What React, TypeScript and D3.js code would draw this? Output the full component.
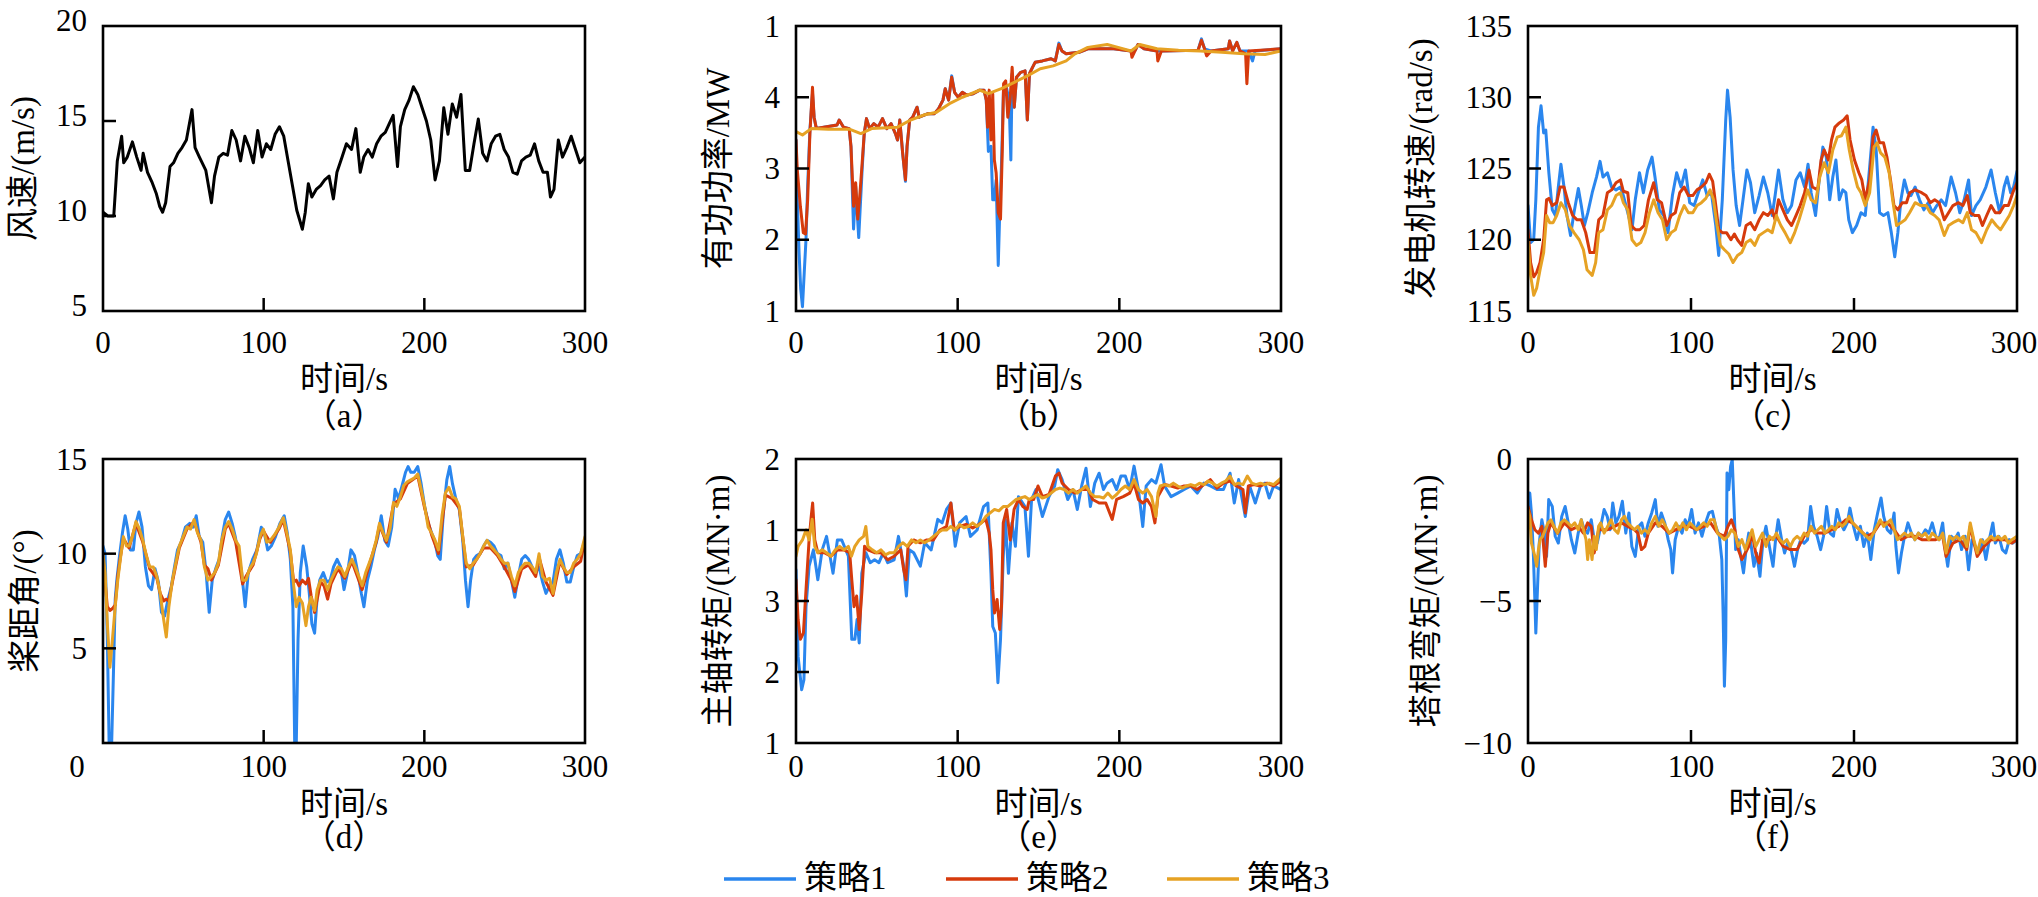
import React from 'react';
import * as d3 from 'd3';

// ---------------- data (time s, value) ----------------
const xTickValues = [0, 100, 200, 300];
const xTickLabels = ['0', '100', '200', '300'];
const legendLabels = ['策略1', '策略2', '策略3'];
const seriesColors = ['#2a86ee', '#d63a0c', '#e6a224'];

const windSpeed = [[0,10.2],[3,10.0],[6.7,10.0],[8.9,12.9],[11.6,14.2],[12.9,12.8],[15.1,13.1],[18.3,13.9],[21.0,13.1],[23.7,12.4],[25.0,13.3],[27.7,12.3],[30.4,11.8],[33.1,11.2],[35.3,10.5],[37.1,10.2],[39.0,10.7],[41.7,12.6],[43.9,12.8],[46.6,13.3],[49.2,13.6],[51.9,14.0],[55.4,15.6],[57.3,13.6],[60.0,13.1],[64.0,12.4],[67.5,10.7],[69.4,12.1],[72.1,13.1],[74.8,13.3],[77.5,13.2],[80.2,14.5],[82.9,14.0],[85.6,12.9],[88.3,14.2],[91.0,13.6],[93.6,12.8],[96.3,14.5],[99.0,13.1],[101.7,13.8],[104.4,13.5],[107.1,14.3],[109.8,14.7],[112.5,14.2],[115.2,12.9],[117.9,11.6],[120.6,10.3],[124.1,9.3],[125.9,10.2],[127.8,11.7],[130.0,11.0],[132.7,11.4],[135.4,11.6],[138.0,11.9],[140.7,12.1],[143.4,10.9],[145.6,12.3],[148.8,13.1],[151.5,13.8],[154.7,13.5],[157.4,14.6],[160.1,12.3],[162.3,13.1],[165.0,13.5],[167.6,13.1],[170.3,13.8],[173.0,14.2],[175.7,14.4],[178.4,14.9],[180.6,15.3],[183.3,12.6],[185.1,14.7],[187.8,15.6],[190.5,16.1],[193.2,16.8],[195.9,16.4],[198.6,15.7],[201.3,15.0],[204.0,14.0],[206.7,11.9],[209.4,12.9],[212.1,15.7],[214.7,14.3],[217.4,15.9],[220.1,15.2],[222.8,16.4],[225.5,12.4],[228.2,12.4],[230.9,13.8],[233.6,15.1],[236.3,13.3],[239.0,12.9],[241.6,13.8],[244.3,14.2],[247.0,14.3],[249.7,13.5],[252.4,13.1],[255.1,12.3],[257.8,12.2],[260.5,12.9],[263.2,13.1],[265.9,13.2],[268.6,13.8],[271.2,12.9],[273.9,12.3],[276.6,12.3],[278.5,11.0],[280.7,11.4],[283.4,14.0],[286.0,13.1],[288.7,13.6],[291.4,14.2],[294.1,13.5],[296.8,12.8],[300,13.1]];

const powerS1 = [[0,3.40],[0.8,2.56],[1.9,1.82],[2.9,1.31],[4.0,1.06],[5.1,1.54],[6.2,2.01],[7.2,2.75],[8.6,3.54],[10.2,4.05],[11.2,3.72],[12.6,3.56],[25.4,3.61],[26.7,3.68],[29.4,3.58],[32.9,3.56],[34.0,3.31],[35.6,2.15],[36.9,2.75],[38.8,2.03],[40.9,2.98],[42.2,3.49],[43.6,3.70],[45.5,3.56],[48.1,3.63],[50.8,3.58],[53.5,3.70],[56.2,3.56],[58.8,3.63],[61.5,3.49],[62.8,3.40],[64.2,3.68],[66.0,3.21],[67.7,2.82],[68.7,3.31],[70.3,3.68],[72.2,3.72],[74.9,3.86],[76.2,3.72],[81.6,3.77],[85.6,3.77],[88.2,3.84],[90.9,3.96],[92.3,4.12],[94.4,3.96],[96.3,4.30],[98.1,4.07],[100.3,4.0],[102.9,4.07],[105.6,4.03],[109.6,4.05],[113.6,4.10],[116.3,4.10],[117.7,3.96],[119.0,3.24],[120.6,3.31],[121.7,2.56],[122.7,2.56],[123.8,2.84],[125.1,1.64],[125.9,2.29],[127.0,2.98],[128.4,4.14],[129.7,4.19],[131.8,3.96],[132.9,3.12],[133.7,4.33],[135.0,3.86],[136.4,4.28],[139.0,4.35],[141.7,4.37],[143.1,3.68],[144.4,4.33],[146.3,4.42],[147.9,4.49],[152.4,4.51],[157.8,4.54],[160.4,4.51],[162.6,4.76],[164.5,4.65],[167.1,4.61],[175.1,4.63],[180.5,4.68],[196.5,4.68],[207.2,4.65],[209.9,4.66],[211.5,4.74],[215.3,4.68],[223.3,4.65],[226.0,4.65],[248.7,4.66],[250.8,4.82],[252.7,4.68],[256.7,4.65],[267.4,4.68],[268.2,4.79],[270.1,4.65],[272.7,4.77],[274.6,4.65],[280.0,4.65],[282.4,4.51],[284.0,4.65],[300,4.68]];
const powerS2 = [[0,3.40],[0.8,2.98],[2.7,2.47],[4.5,2.10],[5.9,2.08],[7.2,2.56],[8.6,3.49],[10.2,4.14],[11.2,3.72],[12.6,3.56],[25.4,3.61],[26.7,3.68],[29.4,3.58],[32.9,3.56],[34.0,3.31],[35.6,2.47],[36.9,2.80],[38.2,2.29],[39.6,2.66],[40.9,3.07],[42.2,3.49],[43.6,3.70],[45.5,3.56],[48.1,3.63],[50.8,3.58],[53.5,3.70],[56.2,3.56],[58.8,3.63],[61.5,3.49],[62.8,3.40],[64.2,3.68],[66.0,3.21],[67.7,2.84],[68.7,3.31],[70.3,3.68],[72.2,3.72],[74.9,3.86],[76.2,3.72],[81.6,3.77],[85.6,3.77],[88.2,3.84],[90.9,3.96],[92.3,4.12],[94.4,3.96],[96.3,4.28],[98.1,4.07],[100.3,4.0],[102.9,4.07],[105.6,4.03],[109.6,4.05],[113.6,4.10],[116.3,4.10],[117.7,3.96],[118.5,3.58],[119.5,4.10],[120.6,3.40],[121.7,4.05],[122.7,3.12],[123.8,2.94],[125.1,2.38],[126.5,2.29],[127.6,3.26],[128.4,4.19],[129.7,4.23],[131.0,3.72],[132.4,3.96],[133.7,4.42],[135.0,3.86],[136.4,4.28],[139.0,4.35],[141.7,4.37],[143.1,3.68],[144.4,4.33],[146.3,4.42],[147.9,4.49],[152.4,4.51],[157.8,4.54],[160.4,4.51],[162.6,4.74],[164.5,4.65],[167.1,4.61],[175.1,4.63],[180.5,4.68],[196.5,4.68],[207.2,4.65],[207.8,4.56],[209.9,4.66],[211.5,4.74],[215.3,4.68],[223.3,4.65],[223.8,4.51],[226.0,4.65],[248.7,4.66],[250.8,4.80],[252.7,4.68],[254.0,4.58],[256.7,4.65],[267.4,4.68],[268.2,4.79],[270.1,4.65],[272.7,4.77],[274.6,4.65],[278.1,4.61],[278.9,4.19],[280.0,4.65],[300,4.68]];
const powerS3 = [[0,3.52],[4.0,3.47],[9.4,3.56],[20,3.55],[33.4,3.55],[40.1,3.49],[46.8,3.56],[62.8,3.58],[70.9,3.68],[78.9,3.75],[86.9,3.79],[94.9,3.91],[102.9,4.0],[113.6,4.10],[119.0,4.05],[127.0,4.12],[135.0,4.21],[143.1,4.30],[151.1,4.40],[159.1,4.44],[167.1,4.51],[172.5,4.61],[180.5,4.70],[192.5,4.74],[199.2,4.70],[207.2,4.65],[212.6,4.74],[223.3,4.68],[236.6,4.66],[250.0,4.65],[263.4,4.63],[276.8,4.61],[290.1,4.60],[300,4.65]];

const genSpeedS1 = [[0,122.4],[1.6,119.8],[3.5,120.0],[4.8,122.8],[6.4,127.9],[8.0,129.4],[9.6,127.5],[10.9,127.7],[12.8,124.7],[14.9,122.1],[16.8,121.7],[18.6,123.7],[20.2,125.3],[22.1,123.7],[23.9,121.7],[26.1,120.3],[28.2,121.9],[30.9,123.6],[32.7,122.4],[34.6,121.0],[36.7,121.9],[39.4,123.3],[42.0,124.4],[44.2,125.5],[46.0,124.4],[48.7,124.7],[51.3,123.7],[54.0,123.5],[56.7,123.7],[58.5,123.1],[61.2,121.9],[63.8,120.7],[65.8,122.8],[68.4,124.7],[70.8,123.3],[73.4,124.9],[76.1,125.8],[77.9,124.4],[80.6,122.1],[83.3,121.7],[85.9,120.5],[88.6,123.1],[91.2,124.7],[93.9,123.7],[96.6,124.9],[99.2,122.6],[101.9,122.4],[104.5,123.3],[107.2,124.2],[109.9,123.1],[112.5,123.3],[115.2,121.0],[117.0,118.9],[119.2,122.8],[121.3,128.4],[122.4,130.5],[124.0,128.6],[125.8,124.9],[127.7,122.4],[129.8,121.0],[131.9,122.8],[134.3,124.9],[136.5,124.0],[139.1,121.9],[141.8,123.1],[144.4,124.4],[147.1,123.3],[149.8,121.7],[151.6,123.1],[153.7,124.9],[156.4,122.8],[159.1,121.9],[161.7,122.4],[164.4,124.2],[167.0,124.7],[169.7,123.7],[171.8,125.3],[173.7,123.3],[176.4,121.7],[178.2,123.7],[180.9,126.5],[183.0,125.8],[185.1,122.8],[187.0,124.4],[188.9,125.6],[191.0,122.8],[193.1,123.5],[195.0,123.3],[196.8,121.4],[199.0,120.5],[201.6,121.0],[204.3,121.9],[206.9,121.7],[209.6,125.1],[211.7,127.9],[213.6,126.3],[215.7,121.9],[218.1,121.7],[220.8,121.9],[222.9,120.5],[225.0,118.8],[226.9,120.5],[228.8,122.8],[230.9,124.2],[233.0,123.3],[234.9,123.1],[237.5,123.7],[240.2,122.8],[242.9,122.1],[245.5,122.6],[248.2,121.9],[250.8,122.4],[253.5,122.8],[256.2,122.4],[259.6,124.4],[262.3,123.3],[264.9,121.9],[267.6,122.8],[270.3,124.2],[272.1,121.7],[274.8,122.4],[277.4,122.8],[280.9,123.7],[284.1,124.9],[286.7,123.3],[289.4,121.9],[292.1,123.7],[293.9,124.4],[296.1,123.3],[297.9,123.7],[300,124.8]];
const genSpeedS2 = [[0,120.7],[1.6,118.4],[3.5,117.4],[5.3,117.7],[7.4,118.4],[9.6,120.0],[11.4,122.8],[12.8,122.9],[14.9,122.4],[17.6,122.6],[19.7,123.7],[22.1,123.7],[24.7,122.6],[27.4,121.7],[30.1,121.4],[32.7,121.4],[35.4,120.5],[38.0,119.1],[40.7,119.1],[43.4,121.4],[46.0,121.7],[48.7,123.3],[51.3,123.5],[54.0,124.0],[56.7,124.2],[58.5,123.4],[61.2,123.3],[63.3,121.0],[66.0,120.7],[68.6,120.7],[71.3,121.0],[73.9,122.8],[77.1,124.0],[79.3,122.8],[81.9,122.6],[85.1,121.0],[87.8,121.7],[90.4,121.9],[93.1,123.3],[95.8,123.7],[98.4,123.1],[101.1,123.1],[103.7,123.5],[106.4,123.7],[109.1,124.0],[111.2,124.6],[113.3,124.1],[115.2,122.4],[117.0,120.7],[119.2,120.5],[121.8,120.5],[124.5,120.0],[126.6,120.4],[128.5,120.0],[131.1,119.6],[133.8,121.0],[136.5,121.2],[139.1,120.7],[141.8,121.4],[144.4,121.9],[147.1,121.7],[149.8,122.1],[151.6,121.4],[153.7,122.8],[156.4,122.1],[159.1,121.4],[161.7,121.0],[164.4,121.7],[167.0,122.4],[169.7,123.3],[172.4,124.9],[174.5,123.7],[177.7,123.5],[179.8,125.6],[181.7,126.3],[184.3,125.6],[186.2,127.0],[188.3,127.9],[191.0,128.2],[193.6,128.4],[195.8,128.7],[197.6,127.0],[200.3,125.6],[203.0,124.7],[204.8,124.2],[206.9,122.8],[209.6,124.2],[211.7,127.2],[213.6,127.7],[215.7,126.8],[218.1,126.8],[220.2,125.8],[222.4,124.2],[224.5,122.4],[226.9,122.1],[229.6,122.6],[232.2,122.6],[234.1,123.3],[237.5,123.5],[241.5,123.3],[244.2,123.1],[246.8,122.6],[249.5,122.8],[252.2,122.6],[255.4,121.4],[258.0,121.9],[260.7,122.4],[264.1,122.6],[266.8,122.4],[269.5,123.1],[271.3,121.9],[274.0,121.7],[276.6,121.7],[278.8,121.0],[281.4,121.7],[284.1,122.4],[286.7,121.9],[289.4,121.9],[292.1,122.4],[294.7,122.4],[297.4,123.3],[300,124.0]];
const genSpeedS3 = [[0,120.0],[1.6,117.5],[3.5,116.1],[5.3,116.6],[7.4,117.9],[9.6,119.1],[11.4,121.7],[13.3,121.2],[15.4,121.2],[17.6,121.7],[20.2,122.6],[22.9,122.1],[25.5,121.0],[28.2,120.5],[31.4,120.0],[34.0,119.3],[36.2,117.9],[39.4,117.5],[41.5,118.4],[43.4,120.5],[46.0,120.7],[48.7,122.1],[51.3,122.4],[54.0,123.1],[56.7,123.3],[58.5,122.6],[61.2,122.1],[63.8,120.0],[66.5,119.6],[69.2,119.8],[71.8,120.5],[74.5,121.9],[77.1,122.8],[79.8,121.9],[82.5,121.4],[85.1,120.0],[87.8,120.5],[90.4,120.7],[93.1,121.7],[95.8,122.4],[98.4,121.9],[101.1,121.9],[103.7,122.4],[106.4,122.6],[109.1,122.9],[111.7,123.5],[113.8,122.8],[116.0,121.0],[118.1,119.6],[120.5,119.3],[123.2,119.0],[125.8,118.4],[128.5,118.9],[131.1,119.1],[133.8,119.8],[136.5,120.0],[139.1,119.6],[141.8,120.3],[144.4,120.5],[147.1,120.7],[149.8,120.5],[152.4,121.7],[155.1,121.0],[157.7,120.5],[160.9,119.8],[163.6,120.5],[166.3,121.4],[168.9,122.4],[171.6,123.5],[173.7,122.8],[176.4,122.6],[179.0,124.4],[181.7,125.4],[184.3,124.7],[187.0,126.3],[189.7,127.2],[192.3,127.3],[195.0,127.9],[197.1,126.3],[199.5,124.9],[202.2,123.7],[204.3,123.3],[206.9,122.4],[209.6,123.3],[212.3,126.5],[214.1,126.8],[216.3,126.1],[218.9,125.8],[221.6,124.7],[223.7,122.8],[226.1,121.0],[228.8,121.2],[231.4,121.4],[234.1,121.9],[237.5,122.6],[241.0,122.4],[244.2,122.4],[246.8,121.9],[249.5,121.7],[252.2,121.4],[255.4,120.3],[258.0,121.0],[260.7,121.2],[264.1,121.4],[266.8,121.2],[269.5,121.9],[272.1,120.7],[274.8,120.5],[278.2,119.8],[281.4,120.7],[284.6,121.4],[287.3,121.0],[289.9,120.7],[292.6,121.2],[295.3,121.7],[297.9,122.4],[300,123.1]];

const pitchS1 = [[0,10.4],[1.3,10.0],[2.7,5.5],[3.8,0],[5.4,0],[6.5,3.7],[7.6,7.6],[8.6,8.6],[10.3,9.9],[12.1,11.1],[13.8,12.0],[15.4,11.3],[17.0,10.2],[18.9,10.2],[20.5,11.6],[22.4,12.2],[24.3,11.4],[26.4,9.3],[28.3,8.3],[30.2,8.1],[32.4,9.2],[34.5,8.5],[36.4,6.9],[38.3,6.7],[40.5,7.6],[42.6,8.3],[44.5,9.3],[46.4,10.2],[48.6,10.6],[51.3,11.4],[54.0,11.6],[56.1,11.4],[58.0,12.0],[59.9,10.9],[62.1,10.6],[64.2,9.0],[66.1,6.9],[68.0,8.6],[70.1,9.2],[72.3,9.7],[74.2,10.9],[76.1,11.8],[78.2,12.2],[80.4,11.6],[82.3,10.9],[84.2,10.0],[86.3,9.0],[88.5,7.2],[90.4,9.0],[93.1,9.7],[95.8,10.2],[98.5,11.4],[100.4,11.1],[102.5,10.2],[104.7,10.4],[107.4,10.9],[110.1,11.6],[112.8,12.0],[114.7,11.1],[116.6,9.7],[118.2,7.2],[119.3,0],[120.3,0],[121.4,5.5],[122.8,9.0],[124.6,10.4],[126.8,9.3],[128.4,7.9],[130.0,6.3],[131.7,5.8],[133.3,7.7],[134.9,8.6],[137.1,9.0],[139.2,8.5],[141.4,8.6],[143.5,9.3],[145.7,9.7],[147.9,9.3],[150.0,8.1],[152.2,9.0],[154.3,10.2],[156.5,9.9],[158.6,9.0],[160.8,7.9],[162.4,7.2],[164.6,8.6],[166.7,9.3],[168.9,10.2],[171.1,10.9],[173.2,12.0],[175.4,10.7],[177.5,10.4],[179.7,11.4],[181.8,13.4],[184.0,12.9],[186.2,13.6],[188.3,14.3],[189.9,14.6],[191.6,14.3],[193.7,14.3],[195.9,14.6],[198.0,13.7],[200.2,12.5],[202.4,11.6],[204.5,11.1],[206.4,10.7],[208.3,9.9],[209.9,9.7],[211.8,12.1],[214.0,13.9],[215.8,14.6],[217.5,13.7],[219.6,12.9],[221.8,12.3],[223.9,10.7],[225.6,8.6],[227.2,7.2],[228.8,8.6],[230.7,9.7],[232.6,9.9],[234.7,10.0],[236.9,10.4],[239.0,10.7],[241.2,10.6],[243.4,10.4],[245.5,10.0],[247.7,9.9],[249.8,9.2],[252.0,9.5],[254.2,8.6],[256.3,7.7],[258.5,8.8],[260.6,9.7],[262.8,9.9],[264.9,9.7],[267.1,9.3],[269.3,9.0],[271.4,9.3],[273.6,8.5],[275.7,7.9],[277.9,8.3],[280.1,8.5],[282.2,9.7],[284.4,10.2],[286.5,9.5],[288.7,8.5],[290.8,8.5],[293.0,9.3],[295.2,9.9],[297.3,10.0],[300,10.7]];
const pitchS2 = [[0,9.8],[1.3,8.5],[2.7,7.2],[4.3,7.0],[5.9,7.1],[7.6,7.3],[9.2,8.8],[10.8,9.8],[12.7,10.8],[16.2,10.3],[20.5,11.6],[24.8,10.6],[29.1,9.2],[33.5,8.7],[35.6,7.9],[37.8,7.5],[39.4,7.6],[41.0,7.5],[43.2,8.5],[47.5,10.3],[52.3,11.3],[56.7,11.7],[61.0,10.6],[63.1,9.4],[65.3,9.2],[67.5,8.6],[71.8,9.4],[76.1,11.3],[78.2,11.6],[82.6,10.6],[86.9,8.4],[89.0,8.8],[93.4,9.4],[97.7,10.8],[99.8,11.2],[104.1,10.6],[109.5,11.3],[112.2,11.8],[116.6,10.1],[118.7,8.5],[120.3,8.6],[122.0,8.3],[124.1,8.6],[126.3,8.4],[127.9,8.7],[129.5,7.8],[131.7,6.9],[133.3,7.6],[135.4,8.5],[137.6,8.3],[139.8,7.6],[141.9,8.4],[146.2,9.2],[150.5,8.7],[154.9,9.6],[159.2,8.6],[161.3,8.1],[165.7,9.4],[170.0,10.6],[172.1,11.5],[176.4,10.6],[180.8,12.6],[185.1,12.9],[189.4,13.7],[195.9,14.1],[200.2,12.4],[204.5,11.0],[208.8,10.0],[213.1,13.1],[217.5,12.9],[221.8,12.4],[226.1,9.3],[230.4,9.4],[236.9,10.3],[241.2,10.3],[245.5,9.9],[249.8,9.3],[254.2,8.6],[256.3,8.0],[260.6,9.2],[264.9,9.4],[269.3,8.8],[271.4,9.8],[275.7,8.5],[280.1,7.8],[284.4,9.6],[288.7,8.9],[293.0,9.3],[297.3,9.6],[300,10.8]];
const pitchS3 = [[0,10.0],[1.3,9.0],[2.7,6.3],[4.3,4.0],[5.9,5.5],[7.6,7.2],[9.2,8.6],[10.8,9.7],[12.7,10.9],[14.6,10.4],[16.2,10.4],[18.3,10.9],[20.5,11.7],[22.7,11.3],[24.8,10.7],[27.0,9.9],[29.1,9.3],[31.3,9.3],[33.5,8.8],[35.6,7.9],[37.8,6.5],[39.4,5.6],[41.0,7.2],[43.2,8.6],[45.3,9.5],[47.5,10.4],[49.9,10.9],[52.3,11.4],[54.5,11.3],[56.7,11.8],[58.8,11.1],[61.0,10.7],[63.1,9.3],[65.3,8.6],[67.5,8.8],[69.6,9.0],[71.8,9.5],[73.9,10.7],[76.1,11.4],[78.2,11.7],[80.4,11.3],[82.6,10.7],[84.7,10.4],[86.9,8.6],[89.0,8.6],[91.2,9.2],[93.4,9.5],[95.5,10.0],[97.7,10.9],[99.8,11.3],[102.0,10.6],[104.1,10.7],[106.8,11.0],[109.5,11.4],[112.2,11.9],[114.4,11.1],[116.6,10.2],[118.7,8.3],[120.3,7.2],[122.0,7.7],[124.1,7.4],[126.3,6.2],[127.9,7.2],[129.5,7.7],[131.7,7.0],[133.3,8.1],[135.4,8.6],[137.6,8.6],[139.8,8.1],[141.9,8.6],[144.1,9.0],[146.2,9.3],[148.4,9.2],[150.5,8.8],[152.7,9.3],[154.9,9.7],[157.0,9.3],[159.2,8.8],[161.3,8.3],[163.5,9.0],[165.7,9.5],[167.8,10.0],[170.0,10.7],[172.1,11.6],[174.3,11.1],[176.4,10.7],[178.6,11.3],[180.8,12.7],[182.9,12.5],[185.1,13.0],[187.2,13.6],[189.4,13.8],[191.6,13.9],[193.7,14.0],[195.9,14.2],[198.0,13.4],[200.2,12.5],[202.4,11.4],[204.5,11.1],[206.7,10.7],[208.8,10.2],[211.0,12.0],[213.1,13.2],[215.3,13.5],[217.5,13.0],[219.6,12.9],[221.8,12.5],[223.9,10.9],[226.1,9.5],[228.3,9.2],[230.4,9.5],[232.6,9.7],[234.7,10.0],[236.9,10.4],[239.0,10.7],[241.2,10.4],[243.4,10.2],[245.5,10.0],[247.7,9.7],[249.8,9.5],[252.0,9.5],[254.2,8.8],[256.3,8.3],[258.5,9.0],[260.6,9.3],[262.8,9.5],[264.9,9.5],[267.1,9.3],[269.3,9.0],[271.4,10.0],[273.6,8.8],[275.7,8.6],[277.9,8.7],[280.1,7.9],[282.2,9.0],[284.4,9.7],[286.5,9.3],[288.7,9.0],[290.8,9.0],[293.0,9.5],[295.2,9.7],[297.3,10.0],[300,10.9]];

const torqueS1 = [[0,3.44],[1.3,2.22],[3.5,1.75],[4.9,1.89],[6.2,2.92],[8.1,3.49],[10.8,3.72],[13.5,3.30],[16.2,3.72],[18.9,3.91],[22.9,3.39],[25.6,3.86],[28.3,3.86],[32.4,3.63],[34.5,2.46],[36.4,2.46],[37.8,2.74],[39.1,2.41],[40.7,3.39],[43.2,3.68],[45.9,3.54],[48.6,3.58],[51.3,3.54],[54.0,3.68],[56.7,3.54],[60.7,3.58],[63.4,3.91],[66.6,3.49],[68.3,3.07],[70.1,3.72],[72.8,3.68],[76.9,3.49],[79.6,3.82],[83.6,3.72],[87.7,4.15],[90.4,4.10],[93.1,4.29],[95.8,4.38],[98.5,3.77],[101.2,4.10],[105.2,4.19],[107.9,3.91],[112.0,4.0],[116.0,4.33],[118.7,4.38],[120.6,3.39],[121.7,2.64],[123.3,2.55],[124.9,1.85],[126.5,2.46],[128.2,3.63],[129.5,4.15],[131.4,3.39],[133.6,4.10],[135.7,3.77],[137.6,4.47],[141.6,4.33],[143.8,3.63],[145.7,4.43],[148.4,4.57],[152.4,4.19],[156.5,4.47],[160.0,4.62],[161.9,4.85],[164.6,4.71],[168.1,4.43],[171.3,4.57],[174.0,4.29],[176.7,4.62],[179.4,4.87],[182.1,4.33],[184.8,4.66],[187.5,4.80],[190.2,4.57],[192.4,4.66],[195.6,4.71],[198.3,4.57],[201.0,4.76],[203.7,4.76],[206.4,4.57],[209.1,4.90],[211.8,4.57],[214.5,4.05],[216.6,4.62],[219.9,4.71],[222.6,4.66],[225.8,4.92],[228.0,4.62],[232.0,4.47],[236.1,4.52],[240.1,4.57],[244.2,4.62],[248.2,4.52],[252.3,4.66],[256.3,4.62],[260.4,4.57],[264.4,4.57],[268.5,4.80],[271.1,4.38],[273.8,4.71],[277.9,4.19],[280.6,4.62],[284.1,4.38],[287.3,4.62],[290.0,4.66],[292.7,4.45],[295.4,4.62],[300,4.57]];
const torqueS2 = [[0,3.30],[1.3,2.74],[2.7,2.46],[4.6,2.55],[6.2,3.16],[8.1,3.86],[9.4,4.19],[10.3,4.38],[11.6,3.86],[13.5,3.68],[17.5,3.68],[21.6,3.63],[25.6,3.72],[29.7,3.72],[33.2,3.68],[34.5,3.30],[35.9,2.92],[37.5,3.07],[39.1,2.60],[40.7,3.11],[42.4,3.77],[44.5,3.72],[48.6,3.68],[52.6,3.68],[56.7,3.58],[60.7,3.63],[64.8,3.72],[66.6,3.44],[68.0,3.30],[69.3,3.77],[72.8,3.86],[76.9,3.82],[80.9,3.86],[85.0,3.86],[89.0,4.0],[93.1,4.05],[95.8,4.38],[97.9,4.0],[101.2,4.05],[105.2,4.08],[109.3,4.03],[113.3,4.08],[117.4,4.15],[119.5,3.96],[120.6,3.72],[121.7,3.16],[122.8,2.83],[124.4,3.02],[126.0,2.60],[127.1,2.92],[128.2,4.10],[130.3,4.29],[132.5,3.86],[134.9,4.29],[137.6,4.43],[140.3,4.33],[143.0,4.29],[144.3,4.43],[147.0,4.43],[149.7,4.62],[152.4,4.47],[156.5,4.50],[160.5,4.76],[162.7,4.80],[164.6,4.66],[168.6,4.57],[172.7,4.52],[176.7,4.57],[180.8,4.57],[183.5,4.43],[187.5,4.38],[191.6,4.38],[195.6,4.15],[198.3,4.43],[202.4,4.47],[206.4,4.52],[209.1,4.66],[211.8,4.43],[214.5,4.38],[217.2,4.43],[219.9,4.33],[222.0,4.10],[223.9,4.47],[228.0,4.64],[232.0,4.62],[236.1,4.59],[240.1,4.62],[244.2,4.62],[248.2,4.57],[252.3,4.64],[256.3,4.71],[260.4,4.59],[264.4,4.66],[268.5,4.69],[272.5,4.62],[276.5,4.57],[277.9,4.24],[279.8,4.62],[283.3,4.64],[287.3,4.62],[291.4,4.66],[295.4,4.62],[300,4.69]];
const torqueS3 = [[0,3.63],[1.3,3.77],[4.0,3.86],[6.2,4.0],[8.1,3.86],[10.0,4.15],[11.6,3.77],[13.5,3.68],[16.2,3.72],[18.9,3.68],[21.6,3.63],[24.3,3.72],[27.0,3.77],[29.7,3.72],[32.4,3.77],[34.3,3.63],[36.4,3.77],[39.1,3.86],[41.8,3.91],[43.2,4.05],[44.5,3.77],[47.2,3.72],[49.9,3.68],[52.6,3.72],[55.3,3.65],[58.0,3.68],[60.7,3.68],[63.4,3.77],[66.1,3.82],[68.8,3.77],[71.5,3.86],[74.2,3.82],[76.9,3.86],[79.6,3.82],[82.3,3.86],[85.0,3.91],[87.7,3.96],[90.4,4.0],[93.1,4.0],[95.8,4.05],[98.5,4.0],[101.2,4.08],[103.9,4.03],[106.6,4.05],[109.3,4.10],[112.0,4.05],[114.7,4.10],[117.4,4.19],[120.1,4.24],[122.8,4.29],[125.5,4.27],[128.2,4.33],[130.9,4.33],[133.6,4.38],[136.2,4.43],[138.9,4.45],[141.6,4.47],[144.3,4.43],[147.0,4.47],[149.7,4.50],[152.4,4.45],[155.1,4.47],[157.8,4.52],[160.5,4.57],[163.2,4.59],[165.9,4.57],[168.6,4.52],[171.3,4.57],[174.0,4.52],[176.7,4.57],[179.4,4.62],[182.1,4.52],[184.8,4.47],[187.5,4.47],[190.2,4.45],[192.9,4.52],[195.6,4.45],[198.3,4.50],[201.0,4.57],[203.7,4.62],[206.4,4.57],[209.1,4.71],[211.8,4.57],[214.5,4.52],[217.2,4.57],[219.9,4.47],[222.6,4.19],[223.9,4.52],[225.3,4.62],[228.0,4.64],[230.7,4.62],[233.4,4.66],[236.1,4.62],[238.8,4.59],[241.5,4.62],[244.2,4.64],[246.9,4.62],[249.6,4.66],[252.3,4.64],[255.0,4.69],[257.7,4.66],[260.4,4.62],[263.1,4.66],[265.8,4.69],[268.5,4.76],[271.1,4.64],[273.8,4.66],[276.5,4.64],[279.2,4.76],[281.9,4.66],[284.6,4.64],[287.3,4.66],[290.0,4.64],[292.7,4.66],[295.4,4.64],[300,4.73]];

const towerS1 = [[0,-1.67],[1.1,-1.20],[2.1,-1.90],[3.2,-3.19],[4.2,-4.95],[4.8,-6.13],[5.8,-4.60],[6.9,-2.96],[8.5,-2.14],[10.1,-2.61],[11.4,-3.43],[12.7,-1.43],[14.9,-1.67],[16.7,-2.72],[18.6,-2.96],[20.7,-2.02],[22.8,-1.67],[24.7,-2.25],[26.6,-2.84],[28.7,-3.31],[30.8,-2.61],[32.7,-2.14],[34.5,-2.49],[36.6,-2.61],[38.8,-2.14],[40.6,-2.84],[42.5,-2.96],[44.6,-2.37],[46.7,-1.78],[48.6,-2.02],[50.4,-2.49],[52.0,-1.55],[53.9,-2.25],[55.8,-2.02],[57.9,-1.49],[60.0,-2.61],[61.9,-1.90],[63.7,-3.08],[65.8,-3.43],[68.0,-2.37],[69.8,-2.25],[71.7,-2.72],[73.8,-2.25],[75.9,-1.90],[78.1,-1.43],[79.7,-2.37],[81.8,-1.90],[83.9,-2.25],[86.0,-2.84],[87.6,-3.19],[88.7,-4.01],[90.3,-2.84],[92.4,-2.37],[94.5,-2.61],[96.4,-2.14],[98.2,-2.37],[100.4,-1.78],[102.5,-2.61],[104.6,-2.25],[106.7,-2.72],[108.9,-2.25],[111.0,-1.90],[113.1,-1.84],[115.2,-2.37],[117.4,-2.72],[118.9,-3.54],[119.7,-5.42],[120.5,-8.0],[121.3,-6.36],[122.1,-0.49],[123.2,-1.08],[124.3,-0.26],[125.3,-0.02],[126.4,-1.67],[127.4,-3.19],[129.0,-2.84],[130.6,-3.43],[132.2,-4.01],[133.8,-3.19],[135.4,-2.61],[137.0,-3.08],[138.6,-3.78],[140.2,-3.31],[142.3,-4.13],[144.2,-2.84],[146.0,-2.37],[148.1,-3.08],[150.3,-3.78],[152.1,-2.72],[153.5,-2.14],[155.6,-2.84],[157.4,-3.31],[159.3,-2.96],[161.4,-3.19],[163.5,-3.78],[165.4,-3.19],[167.3,-2.84],[169.4,-2.96],[171.5,-2.84],[173.4,-1.67],[175.2,-2.37],[177.4,-2.72],[179.5,-3.19],[181.3,-2.72],[183.2,-1.67],[185.3,-2.61],[187.4,-2.72],[189.6,-1.78],[191.7,-2.25],[193.8,-2.49],[195.9,-2.25],[197.5,-1.73],[199.7,-2.37],[201.8,-2.84],[203.9,-2.37],[206.0,-3.08],[208.2,-2.61],[210.3,-3.54],[212.4,-2.49],[214.5,-1.90],[216.6,-1.37],[218.2,-2.02],[220.4,-2.49],[222.5,-2.61],[224.6,-1.90],[225.7,-3.08],[227.3,-4.01],[229.1,-3.31],[231.0,-2.72],[233.1,-2.25],[235.2,-2.61],[237.4,-2.84],[239.5,-2.61],[241.6,-2.72],[243.8,-2.49],[245.9,-2.61],[248.0,-2.25],[250.1,-2.72],[252.2,-2.84],[254.4,-2.25],[256.0,-3.19],[257.5,-3.78],[259.7,-2.72],[261.8,-2.84],[263.9,-2.61],[266.0,-3.19],[268.2,-2.72],[270.3,-3.90],[272.4,-2.84],[274.5,-3.08],[276.7,-3.31],[278.8,-2.84],[280.9,-3.54],[283.0,-2.84],[285.2,-2.25],[286.7,-2.96],[288.9,-2.72],[291.0,-3.19],[293.1,-3.31],[295.3,-2.84],[297.4,-2.96],[300,-2.84]];
const towerS2 = [[0,-1.67],[2.1,-2.14],[4.2,-2.49],[6.4,-2.61],[8.5,-2.37],[10.6,-3.78],[12.2,-2.61],[14.1,-2.25],[18.1,-2.61],[22.3,-2.25],[26.6,-2.49],[30.8,-2.37],[34.0,-2.61],[36.6,-2.25],[38.8,-2.37],[40.6,-3.31],[43.3,-2.49],[48.9,-2.49],[53.1,-2.37],[57.3,-2.25],[61.1,-2.37],[65.3,-2.49],[67.4,-2.61],[69.6,-3.19],[71.7,-3.08],[73.8,-2.61],[78.1,-2.25],[82.3,-2.37],[86.6,-2.61],[90.8,-2.49],[95.0,-2.37],[99.3,-2.37],[103.5,-2.49],[107.8,-2.37],[112.0,-2.25],[116.3,-2.61],[120.5,-2.72],[122.7,-2.37],[124.8,-2.14],[126.9,-2.49],[129.0,-3.19],[131.2,-3.54],[133.3,-3.31],[135.4,-3.08],[137.5,-2.61],[139.7,-3.31],[141.8,-3.66],[143.9,-2.84],[148.1,-2.84],[152.4,-2.72],[156.6,-3.08],[160.9,-3.19],[165.1,-3.19],[169.4,-2.72],[173.6,-2.49],[177.9,-2.61],[182.1,-2.61],[186.4,-2.49],[190.6,-2.37],[194.9,-2.14],[199.1,-2.25],[203.4,-2.49],[207.6,-2.72],[211.9,-2.61],[216.1,-2.25],[220.4,-2.25],[224.6,-2.49],[228.9,-2.84],[233.1,-2.72],[237.4,-2.72],[241.6,-2.84],[245.9,-2.84],[250.1,-2.84],[254.4,-2.72],[256.5,-3.43],[260.7,-2.96],[265.0,-2.84],[269.2,-3.19],[271.3,-2.37],[275.6,-3.43],[279.8,-3.08],[284.1,-2.84],[288.3,-2.84],[292.6,-2.84],[296.8,-2.96],[300,-2.84]];
const towerS3 = [[0,-1.78],[1.1,-2.02],[2.1,-2.96],[3.2,-3.19],[4.2,-3.43],[5.3,-3.78],[6.4,-3.19],[7.4,-2.84],[9.0,-2.72],[10.6,-2.49],[12.2,-2.25],[14.1,-2.14],[15.9,-2.37],[18.1,-2.61],[20.2,-2.25],[22.3,-2.14],[24.4,-2.25],[26.6,-2.37],[28.7,-2.25],[30.8,-2.49],[32.7,-2.14],[34.0,-2.49],[35.6,-2.84],[36.6,-3.54],[37.7,-2.84],[39.3,-3.54],[40.6,-2.72],[41.9,-3.19],[43.3,-2.37],[44.6,-2.25],[46.7,-2.61],[48.9,-2.37],[51.0,-2.14],[53.1,-2.49],[55.2,-2.61],[57.3,-2.14],[59.2,-2.02],[61.1,-2.25],[63.2,-2.37],[65.3,-2.49],[67.4,-2.37],[69.6,-2.61],[71.7,-2.49],[73.8,-2.61],[75.9,-2.25],[78.1,-2.02],[80.2,-2.37],[82.3,-2.14],[84.4,-2.37],[86.6,-2.61],[88.7,-2.49],[90.8,-2.25],[92.9,-2.49],[95.0,-2.25],[97.2,-2.49],[99.3,-2.25],[101.4,-2.37],[103.5,-2.49],[105.7,-2.37],[107.8,-2.25],[109.9,-2.37],[112.0,-2.14],[114.2,-2.14],[116.3,-2.61],[118.4,-2.72],[120.5,-2.84],[122.7,-2.72],[124.8,-2.49],[126.9,-2.61],[129.0,-3.08],[131.2,-2.84],[133.3,-3.19],[135.4,-2.84],[137.5,-2.49],[139.7,-3.08],[141.8,-2.84],[143.9,-2.61],[146.0,-3.08],[148.1,-2.72],[150.3,-2.84],[152.4,-2.61],[154.5,-2.84],[156.6,-2.96],[158.8,-2.84],[160.9,-3.08],[163.0,-2.84],[165.1,-2.72],[167.3,-2.84],[169.4,-2.61],[171.5,-2.72],[173.6,-2.37],[175.8,-2.61],[177.9,-2.49],[180.0,-2.37],[182.1,-2.61],[184.3,-2.49],[186.4,-2.37],[188.5,-2.49],[190.6,-2.25],[192.8,-2.37],[194.9,-2.25],[197.0,-2.02],[199.1,-2.25],[201.2,-2.37],[203.4,-2.49],[205.5,-2.61],[207.6,-2.72],[209.7,-2.84],[211.9,-2.61],[214.0,-2.37],[216.1,-2.14],[218.2,-2.37],[220.4,-2.25],[222.5,-2.14],[224.6,-2.49],[226.7,-2.84],[228.9,-2.72],[231.0,-2.61],[233.1,-2.72],[235.2,-2.61],[237.4,-2.84],[239.5,-2.61],[241.6,-2.72],[243.8,-2.61],[245.9,-2.84],[248.0,-2.61],[250.1,-2.72],[252.2,-2.84],[254.4,-2.61],[256.5,-3.31],[258.6,-2.72],[260.7,-2.84],[262.8,-2.72],[265.0,-2.84],[267.1,-2.72],[269.2,-3.08],[271.3,-2.25],[273.5,-2.84],[275.6,-3.31],[277.7,-2.84],[279.8,-2.96],[282.0,-2.84],[284.1,-2.72],[286.2,-2.84],[288.3,-2.72],[290.5,-2.84],[292.6,-2.72],[294.7,-2.96],[296.8,-2.84],[300,-2.72]];

// y axis tick values / labels per panel
const windTicks = [5, 10, 15, 20];
const windTickLabels = ['5', '10', '15', '20'];
const powerTicks = [1, 2, 3, 4, 5];
const powerTickLabels = ['1', '2', '3', '4', '1'];
const genTicks = [115, 120, 125, 130, 135];
const genTickLabels = ['115', '120', '125', '130', '135'];
const pitchTicks = [5, 10, 15];
const pitchTickLabels = ['5', '10', '15'];
const torqueTicks = [1, 2, 3, 4, 5];
const torqueTickLabels = ['1', '2', '3', '1', '2'];
const towerTicks = [-10, -5, 0];
const towerTickLabels = ['\u221210', '\u22125', '0'];

// ---------------- layout ----------------
const W = 2038, H = 897;
const COL_X = [103, 796, 1528];
const COL_W = [482, 485, 489];
const ROW_Y = [26, 459];
const ROW_H = [285, 284];
const TITLE_X = [[22, 717, 1420], [24, 717, 1425]];
const XTICK_BASE = [353, 777];
const XLABEL_BASE = [390, 815];
const CAPTION_BASE = [427, 848];
const FONT = "'Liberation Serif', 'Times New Roman', 'Noto Sans CJK SC', serif";
const TICK_FS = 31;
const LABEL_FS = 33;
const TICK_LEN = 13;

const panels = [
  { col: 0, row: 0, domain: [5, 20], ticks: windTicks, labels: windTickLabels, yLabelShift: -6, title: '风速/(m/s)', caption: '（a）', series: [{ data: windSpeed, color: '#000' }] },
  { col: 1, row: 0, domain: [1, 5], ticks: powerTicks, labels: powerTickLabels, title: '有功功率/MW', caption: '（b）', series: [powerS1, powerS2, powerS3].map((d, i) => ({ data: d, color: seriesColors[i] })) },
  { col: 2, row: 0, domain: [115, 135], ticks: genTicks, labels: genTickLabels, title: '发电机转速/(rad/s)', caption: '（c）', series: [genSpeedS1, genSpeedS2, genSpeedS3].map((d, i) => ({ data: d, color: seriesColors[i] })) },
  { col: 0, row: 1, domain: [0, 15], ticks: pitchTicks, labels: pitchTickLabels, title: '桨距角/(°)', caption: '（d）', zeroShift: -26, series: [pitchS1, pitchS2, pitchS3].map((d, i) => ({ data: d, color: seriesColors[i] })) },
  { col: 1, row: 1, domain: [1, 5], ticks: torqueTicks, labels: torqueTickLabels, title: '主轴转矩/(MN·m)', caption: '（e）', series: [torqueS1, torqueS2, torqueS3].map((d, i) => ({ data: d, color: seriesColors[i] })) },
  { col: 2, row: 1, domain: [-10, 0], ticks: towerTicks, labels: towerTickLabels, title: '塔根弯矩/(MN·m)', caption: '（f）', series: [towerS1, towerS2, towerS3].map((d, i) => ({ data: d, color: seriesColors[i] })) },
];

function Panel({ p, idx }: any) {
  const x0 = COL_X[p.col], w = COL_W[p.col], y0 = ROW_Y[p.row], h = ROW_H[p.row];
  const x = d3.scaleLinear().domain([0, 300]).range([x0, x0 + w]);
  const y = d3.scaleLinear().domain(p.domain).range([y0 + h, y0]);
  const line = d3.line<number[]>().x((d) => x(d[0])).y((d) => y(d[1]));
  const cx = x0 + w / 2;
  const cy = y0 + h / 2;
  const tx = TITLE_X[p.row][p.col];
  const [lo, hi] = p.domain;
  const shiftY = p.yLabelShift || 0;
  return (
    <g>
      <defs>
        <clipPath id={`clip${idx}`}>
          <rect x={x0} y={y0} width={w} height={h} />
        </clipPath>
      </defs>
      <g clipPath={`url(#clip${idx})`}>
        {p.series.map((s: any, i: number) => (
          <path key={i} d={line(s.data) || ''} fill="none" stroke={s.color} strokeWidth={3} strokeLinejoin="round" strokeLinecap="round" />
        ))}
      </g>
      {xTickValues.filter((v) => v > 0 && v < 300).map((v) => (
        <line key={'xt' + v} x1={x(v)} x2={x(v)} y1={y0 + h} y2={y0 + h - TICK_LEN} stroke="#000" strokeWidth={2.5} />
      ))}
      {p.ticks.filter((v: number) => v > lo && v < hi).map((v: number) => (
        <line key={'yt' + v} x1={x0} x2={x0 + TICK_LEN} y1={y(v)} y2={y(v)} stroke="#000" strokeWidth={2.5} />
      ))}
      <rect x={x0} y={y0} width={w} height={h} fill="none" stroke="#000" strokeWidth={2.6} />
      {xTickValues.map((v, i) => {
        let px = x(v) + (v === 0 && p.zeroShift ? p.zeroShift : 0);
        px = Math.min(px, W - 24);
        return (
          <text key={'xl' + v} x={px} y={XTICK_BASE[p.row]} textAnchor="middle" fontSize={TICK_FS} fontFamily={FONT}>{xTickLabels[i]}</text>
        );
      })}
      {p.ticks.map((v: number, i: number) => (
        <text key={'yl' + v} x={x0 - 16} y={y(v) + 10.5 + shiftY} textAnchor="end" fontSize={TICK_FS} fontFamily={FONT}>{p.labels[i]}</text>
      ))}
      <text x={cx} y={XLABEL_BASE[p.row]} textAnchor="middle" fontSize={LABEL_FS} fontFamily={FONT}>时间/s</text>
      <text x={cx} y={CAPTION_BASE[p.row]} textAnchor="middle" fontSize={LABEL_FS} fontFamily={FONT}>{p.caption}</text>
      <text transform={`translate(${tx + 12},${cy}) rotate(-90)`} textAnchor="middle" fontSize={LABEL_FS} fontFamily={FONT}>{p.title}</text>
    </g>
  );
}

const LEGEND_X = [724, 946, 1167];
const LEGEND_Y = 879;

export default function App() {
  return (
    <svg width={W} height={H} viewBox={`0 0 ${W} ${H}`} style={{ position: 'absolute', left: 0, top: 0, background: '#fff' }}>
      <rect x={0} y={0} width={W} height={H} fill="#fff" />
      {panels.map((p, i) => <Panel key={i} p={p} idx={i} />)}
      {legendLabels.map((l, i) => (
        <g key={l}>
          <line x1={LEGEND_X[i]} x2={LEGEND_X[i] + 72} y1={LEGEND_Y} y2={LEGEND_Y} stroke={seriesColors[i]} strokeWidth={3.5} />
          <text x={LEGEND_X[i] + 80} y={LEGEND_Y + 10} fontSize={LABEL_FS} fontFamily={FONT}>{l}</text>
        </g>
      ))}
    </svg>
  );
}
